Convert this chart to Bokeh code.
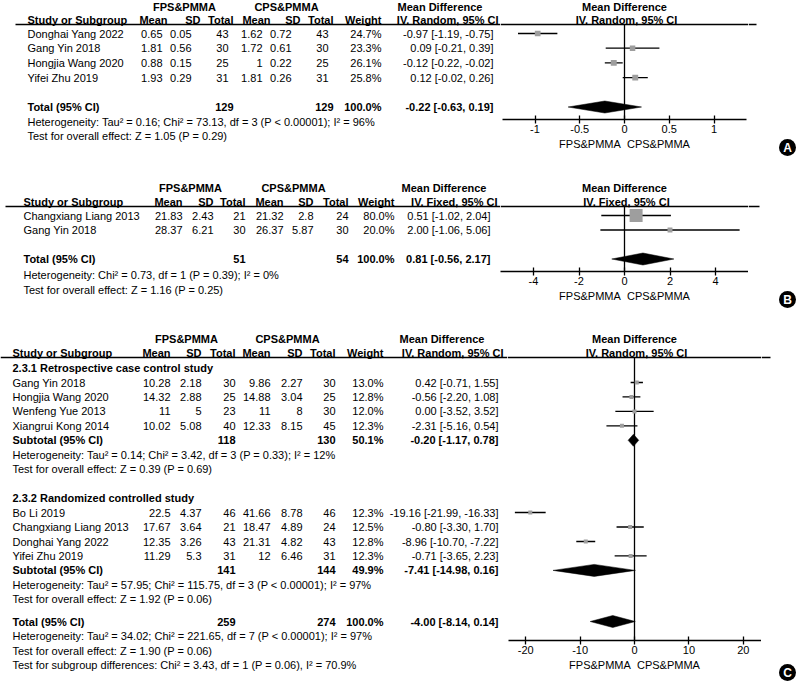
from bokeh.plotting import figure
from bokeh.layouts import column, row
from bokeh.models import Range1d, FixedTicker
from bokeh.core.properties import value
from bokeh.embed import file_html
from bokeh.resources import INLINE

FONT = "Liberation Sans"
FS = "11px"
SQ = "#9e9e9e"

# ---------------- Panel A data ----------------
a_study = ["Donghai Yang 2022", "Gang Yin 2018", "Hongjia Wang 2020", "Yifei Zhu 2019"]
a_m1 = [0.65, 1.81, 0.88, 1.93]
a_s1 = [0.05, 0.56, 0.15, 0.29]
a_n1 = [43, 30, 25, 31]
a_m2 = [1.62, 1.72, 1, 1.81]
a_s2 = [0.72, 0.61, 0.22, 0.26]
a_n2 = [43, 30, 25, 31]
a_w = [24.7, 23.3, 26.1, 25.8]
a_md = [-0.97, 0.09, -0.12, 0.12]
a_lo = [-1.19, -0.21, -0.22, -0.02]
a_hi = [-0.75, 0.39, -0.02, 0.26]
a_tot_n = [129, 129]
a_tot_w = 100.0
a_tot_ci = [-0.22, -0.63, 0.19]
a_notes = ["Heterogeneity: Tau\u00b2 = 0.16; Chi\u00b2 = 73.13, df = 3 (P < 0.00001); I\u00b2 = 96%",
           "Test for overall effect: Z = 1.05 (P = 0.29)"]
a_ticks = [-1, -0.5, 0, 0.5, 1]
a_tick_labels = ["-1", "-0.5", "0", "0.5", "1"]

# ---------------- Panel B data ----------------
b_study = ["Changxiang Liang 2013", "Gang Yin 2018"]
b_m1 = [21.83, 28.37]
b_s1 = [2.43, 6.21]
b_n1 = [21, 30]
b_m2 = [21.32, 26.37]
b_s2 = [2.8, 5.87]
b_n2 = [24, 30]
b_w = [80.0, 20.0]
b_md = [0.51, 2.00]
b_lo = [-1.02, -1.06]
b_hi = [2.04, 5.06]
b_tot_n = [51, 54]
b_tot_w = 100.0
b_tot_ci = [0.81, -0.56, 2.17]
b_notes = ["Heterogeneity: Chi\u00b2 = 0.73, df = 1 (P = 0.39); I\u00b2 = 0%",
           "Test for overall effect: Z = 1.16 (P = 0.25)"]
b_ticks = [-4, -2, 0, 2, 4]
b_tick_labels = ["-4", "-2", "0", "2", "4"]

# ---------------- Panel C data ----------------
c_group1 = "2.3.1 Retrospective case control study"
c1_study = ["Gang Yin 2018", "Hongjia Wang 2020", "Wenfeng Yue 2013", "Xiangrui Kong 2014"]
c1_m1 = [10.28, 14.32, 11, 10.02]
c1_s1 = [2.18, 2.88, 5, 5.08]
c1_n1 = [30, 25, 23, 40]
c1_m2 = [9.86, 14.88, 11, 12.33]
c1_s2 = [2.27, 3.04, 8, 8.15]
c1_n2 = [30, 25, 30, 45]
c1_w = [13.0, 12.8, 12.0, 12.3]
c1_md = [0.42, -0.56, 0.00, -2.31]
c1_lo = [-0.71, -2.20, -3.52, -5.16]
c1_hi = [1.55, 1.08, 3.52, 0.54]
c1_sub_n = [118, 130]
c1_sub_w = 50.1
c1_sub_ci = [-0.20, -1.17, 0.78]
c1_notes = ["Heterogeneity: Tau\u00b2 = 0.14; Chi\u00b2 = 3.42, df = 3 (P = 0.33); I\u00b2 = 12%",
            "Test for overall effect: Z = 0.39 (P = 0.69)"]

c_group2 = "2.3.2 Randomized controlled study"
c2_study = ["Bo Li 2019", "Changxiang Liang 2013", "Donghai Yang 2022", "Yifei Zhu 2019"]
c2_m1 = [22.5, 17.67, 12.35, 11.29]
c2_s1 = [4.37, 3.64, 3.26, 5.3]
c2_n1 = [46, 21, 43, 31]
c2_m2 = [41.66, 18.47, 21.31, 12]
c2_s2 = [8.78, 4.89, 4.82, 6.46]
c2_n2 = [46, 24, 43, 31]
c2_w = [12.3, 12.5, 12.8, 12.3]
c2_md = [-19.16, -0.80, -8.96, -0.71]
c2_lo = [-21.99, -3.30, -10.70, -3.65]
c2_hi = [-16.33, 1.70, -7.22, 2.23]
c2_sub_n = [141, 144]
c2_sub_w = 49.9
c2_sub_ci = [-7.41, -14.98, 0.16]
c2_notes = ["Heterogeneity: Tau\u00b2 = 57.95; Chi\u00b2 = 115.75, df = 3 (P < 0.00001); I\u00b2 = 97%",
            "Test for overall effect: Z = 1.92 (P = 0.06)"]

c_tot_n = [259, 274]
c_tot_w = 100.0
c_tot_ci = [-4.00, -8.14, 0.14]
c_notes = ["Heterogeneity: Tau\u00b2 = 34.02; Chi\u00b2 = 221.65, df = 7 (P < 0.00001); I\u00b2 = 97%",
           "Test for overall effect: Z = 1.90 (P = 0.06)",
           "Test for subgroup differences: Chi\u00b2 = 3.43, df = 1 (P = 0.06), I\u00b2 = 70.9%"]
c_ticks = [-20, -10, 0, 10, 20]
c_tick_labels = ["-20", "-10", "0", "10", "20"]

group_label = ["FPS&PMMA", "CPS&PMMA"]
col_heads = ["Study or Subgroup", "Mean", "SD", "Total", "Mean", "SD", "Total", "Weight"]


# ---------------- helpers ----------------
def fmt(v):
    return f"{v:g}"


def ci_text(md, lo, hi):
    return f"{md:.2f} [{lo:.2f}, {hi:.2f}]"


def txt(p, xs, ys, texts, align="left", bold=False, size=FS, color="black", x_offset=0):
    p.text(x=xs, y=ys, text=texts, text_align=align, text_baseline="middle",
           text_font=value(FONT), text_font_size=size,
           text_font_style="bold" if bold else "normal", text_color=color,
           x_offset=x_offset, level="overlay")


def plain_fig(x0, x1, top, bot, axis_y):
    # same vertical geometry as the forest figure so that aligned frames agree
    p = figure(width=x1 - x0, height=bot - top, x_range=Range1d(x0, x1),
               y_range=Range1d(axis_y, top), toolbar_location=None, output_backend="svg",
               min_border=0, min_border_bottom=bot - axis_y, outline_line_color=None,
               background_fill_color="white", border_fill_color="white",
               x_axis_type=None, y_axis_type=None)
    return p


KEYS = ["m1", "s1", "n1", "m2", "s2", "n2", "w"]


def build_panel(L, blocks, ticks, tick_labels, ci_head, letter):
    top, bot = L["panel"]
    tx0, tx1, fx1, lx1 = L["xs"]
    zero, ppu = L["zero"], L["ppu"]
    axis_y = L["axis_y"]
    pt = plain_fig(tx0, tx1, top, bot, axis_y)
    pf = figure(width=fx1 - tx1, height=bot - top,
                x_range=Range1d((tx1 - zero) / ppu, (fx1 - zero) / ppu),
                y_range=Range1d(axis_y, top), toolbar_location=None, output_backend="svg",
                min_border=0, min_border_bottom=bot - axis_y, outline_line_color=None,
                y_axis_type=None, background_fill_color="white", border_fill_color="white")
    pf.xgrid.visible = False
    ax = pf.xaxis[0]
    ax.ticker = FixedTicker(ticks=ticks)
    ax.major_label_overrides = {t: s for t, s in zip(ticks, tick_labels)}
    ax.bounds = L["bounds"]
    ax.minor_tick_line_color = None
    ax.major_tick_in = 4
    ax.major_tick_out = 4
    ax.axis_line_width = 1.3
    ax.major_tick_line_width = 1.3
    ax.axis_line_color = "black"
    ax.major_tick_line_color = "black"
    ax.major_label_standoff = 1
    ax.major_label_text_font = FONT
    ax.major_label_text_font_size = FS
    ax.major_label_text_color = "black"
    ax.axis_label = group_label[0] + "\u00a0 " + group_label[1]
    ax.axis_label_standoff = 2
    ax.axis_label_text_font = FONT
    ax.axis_label_text_font_size = FS
    ax.axis_label_text_font_style = "normal"
    ax.axis_label_text_color = "black"
    pl = plain_fig(fx1, lx1, top, bot, axis_y)

    H = L["head"]   # header / total column right edges
    V = L["vals"]   # study value column right edges
    y1, y2, yl = L["hdr"]
    # headers
    txt(pt, [H["fps"], H["cps"]], [y1, y1], group_label, align="center", bold=True)
    txt(pt, [H["study"]], [y2], [col_heads[0]], bold=True)
    txt(pt, [H[k] for k in KEYS], [y2] * 7, col_heads[1:], align="right", bold=True)
    txt(pt, [H["mdh"]], [y1], ["Mean Difference"], bold=True)
    txt(pt, [H["cih"]], [y2], [ci_head], align="right", bold=True)
    txt(pf, [0], [y1], ["Mean Difference"], align="center", bold=True)
    txt(pf, [0], [y2], [ci_head], align="center", bold=True, x_offset=2)
    # top rule
    ls, le = L["rule"]
    pt.segment(x0=[ls], x1=[tx1], y0=[yl], y1=[yl], line_color="black", line_width=1.4)
    pf.segment(x0=[(tx1 - zero) / ppu], x1=[(fx1 - zero) / ppu], y0=[yl], y1=[yl],
               line_color="black", line_width=1.4)
    if le > fx1:
        pl.segment(x0=[fx1], x1=[le], y0=[yl], y1=[yl], line_color="black", line_width=1.4)
    # line of no effect
    pf.segment(x0=[0], x1=[0], y0=[yl], y1=[axis_y], line_color="black", line_width=1.3)

    for b in blocks:
        kind = b[0]
        if kind == "group":
            _, y, label = b
            txt(pt, [H["study"]], [y], [label], bold=True)
        elif kind == "notes":
            _, ys, notes = b
            txt(pt, [H["study"]] * len(notes), ys, notes)
        elif kind == "studies":
            _, ys, st, m1, s1, n1, m2, s2, n2, w, md, lo, hi = b
            txt(pt, [H["study"]] * len(st), ys, st)
            for k, vals in zip(KEYS[:6], [m1, s1, n1, m2, s2, n2]):
                txt(pt, [V[k]] * len(vals), ys, [fmt(v) for v in vals], align="right")
            txt(pt, [V["w"]] * len(w), ys, [f"{v:.1f}%" for v in w], align="right")
            txt(pt, [V["ci"]] * len(md), ys, [ci_text(a, l, h) for a, l, h in zip(md, lo, hi)],
                align="right")
            pf.segment(x0=lo, x1=hi, y0=ys, y1=ys, line_color="black", line_width=1.3)
            sizes = [max(4.0, 13.0 * (v / 80.0) ** 0.7) for v in w]
            pf.scatter(x=md, y=ys, size=sizes, marker="square", fill_color=SQ, line_color=None)
        elif kind == "total":
            _, y, label, n, w, ci = b
            txt(pt, [H["study"]], [y], [label], bold=True)
            txt(pt, [H["n1"], H["n2"], H["w"]], [y] * 3,
                [fmt(n[0]), fmt(n[1]), f"{w:.1f}%"], align="right", bold=True)
            txt(pt, [V["ci"]], [y], [ci_text(*ci)], align="right", bold=True)
            md, lo, hi = ci
            hh = L["dh"]
            pf.patches(xs=[[lo, md, hi, md]], ys=[[y, y - hh, y, y + hh]],
                       fill_color="black", line_color="black", line_width=0.5)

    # panel letter badge (drawn in the border below the frame; a transparent
    # companion marker widens the marker culling margin so the badge is kept)
    bx, by = L["badge"]
    pl.scatter(x=[bx, bx], y=[by, axis_y - 1], size=[17, 120], marker="circle",
               fill_color="black", fill_alpha=[1.0, 0.0], line_color=None, level="overlay")
    txt(pl, [bx], [by + 0.5], [letter], align="center", bold=True, size="12px", color="white")
    return row(pt, pf, pl)


# ---------------- layouts (positions in reference pixels) ----------------
LA = dict(panel=(0, 170), xs=(0, 500, 748, 798), zero=624, ppu=89.5, axis_y=119,
          bounds=(-1.363, 1.363), hdr=(6, 19.5, 24), rule=(15, 756), dh=6, badge=(787, 147),
          head=dict(study=27, m1=167, s1=200, n1=233, m2=270, s2=300, n2=333, w=381,
                    cih=498, fps=184, cps=286, mdh=397),
          vals=dict(m1=162, s1=191, n1=228, m2=262, s2=291, n2=328, w=381, ci=493))
LB = dict(panel=(170, 325), xs=(0, 500, 748, 798), zero=624, ppu=22.75, axis_y=271,
          bounds=(-5.45, 5.45), hdr=(187, 201, 206), rule=(5, 759), dh=6, badge=(787, 299),
          head=dict(study=23, m1=182, s1=213, n1=245, m2=283, s2=313, n2=348, w=394,
                    cih=497, fps=190, cps=293, mdh=401),
          vals=dict(m1=182, s1=213, n1=245, m2=283, s2=313, n2=348, w=394, ci=490))
LC = dict(panel=(325, 681), xs=(0, 507, 761, 798), zero=634, ppu=5.44, axis_y=640,
          bounds=(-23.2, 23.3), hdr=(338, 352, 357), rule=(0, 770), dh=6, badge=(787, 672),
          head=dict(study=12, m1=170, s1=201, n1=235, m2=270, s2=302, n2=335, w=383,
                    cih=503, fps=186, cps=287, mdh=399),
          vals=dict(m1=170, s1=201, n1=235, m2=270, s2=302, n2=335, w=383, ci=498))

blocks_a = [
    ("studies", [33, 47.7, 62.4, 77.1], a_study, a_m1, a_s1, a_n1, a_m2, a_s2, a_n2, a_w, a_md, a_lo, a_hi),
    ("total", 106.5, "Total (95% CI)", a_tot_n, a_tot_w, a_tot_ci),
    ("notes", [121.2, 135.9], a_notes),
]
blocks_b = [
    ("studies", [215, 229.5], b_study, b_m1, b_s1, b_n1, b_m2, b_s2, b_n2, b_w, b_md, b_lo, b_hi),
    ("total", 258.5, "Total (95% CI)", b_tot_n, b_tot_w, b_tot_ci),
    ("notes", [274, 289], b_notes),
]
blocks_c = [
    ("group", 367.5, c_group1),
    ("studies", [382, 396.4, 410.9, 425.3], c1_study, c1_m1, c1_s1, c1_n1, c1_m2, c1_s2, c1_n2,
     c1_w, c1_md, c1_lo, c1_hi),
    ("total", 439.8, "Subtotal (95% CI)", c1_sub_n, c1_sub_w, c1_sub_ci),
    ("notes", [454.2, 468.7], c1_notes),
    ("group", 497.6, c_group2),
    ("studies", [512, 526.5, 541, 555.4], c2_study, c2_m1, c2_s1, c2_n1, c2_m2, c2_s2, c2_n2,
     c2_w, c2_md, c2_lo, c2_hi),
    ("total", 569.9, "Subtotal (95% CI)", c2_sub_n, c2_sub_w, c2_sub_ci),
    ("notes", [584.3, 598.8], c2_notes),
    ("total", 621, "Total (95% CI)", c_tot_n, c_tot_w, c_tot_ci),
    ("notes", [635.5, 650, 664.4], c_notes),
]

panel_a = build_panel(LA, blocks_a, a_ticks, a_tick_labels, "IV. Random, 95% CI", "A")
panel_b = build_panel(LB, blocks_b, b_ticks, b_tick_labels, "IV. Fixed, 95% CI", "B")
panel_c = build_panel(LC, blocks_c, c_ticks, c_tick_labels, "IV. Random, 95% CI", "C")

layout = column(panel_a, panel_b, panel_c)

with open("out.html", "w") as f:
    f.write(file_html(layout, INLINE))
